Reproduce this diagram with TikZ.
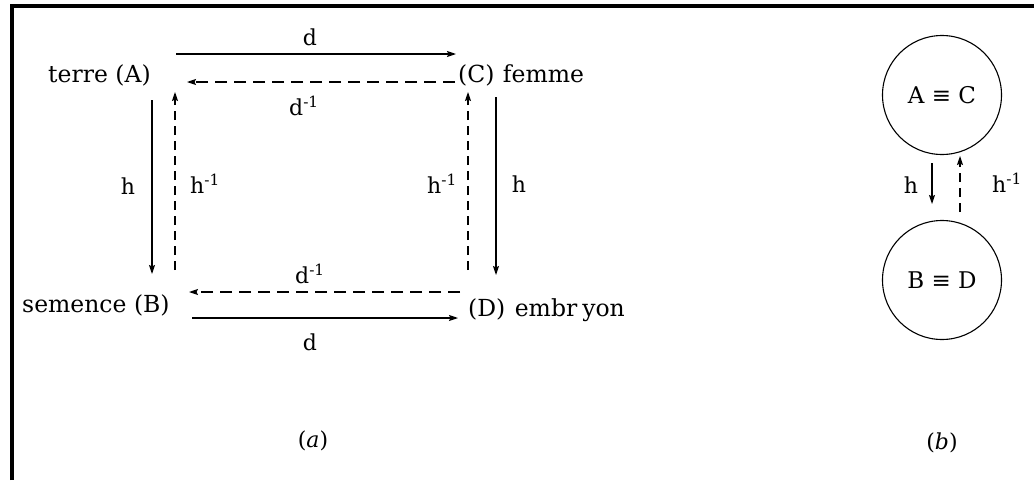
\documentclass[tikz,border=0pt]{standalone}
\usepackage{fontspec}
\setmainfont{DejaVu Serif}
\usetikzlibrary{arrows.meta}
\begin{document}
\begin{tikzpicture}[x=1pt,y=-1pt,
  txt/.style={inner sep=0pt,font=\fontsize{23.5}{28}\selectfont},
  lbl/.style={inner sep=0pt,font=\fontsize{22}{26}\selectfont},
  solidarrow/.style={line width=1.1pt,-{Stealth[length=9pt,width=6pt,inset=1.5pt]}},
  hdash/.style={line width=1.1pt,dash pattern=on 12pt off 7pt,-{Stealth[length=9pt,width=6pt,inset=1.5pt]}},
  vdash/.style={line width=1.1pt,dash pattern=on 9pt off 6pt,-{Stealth[length=9pt,width=6pt,inset=1.5pt]}},
  ring/.style={circle,draw,line width=1.1pt,minimum size=119pt,inner sep=0pt,font=\fontsize{23}{27}\selectfont}
]
\useasboundingbox (0,0) rectangle (1034,480);
% frame (top and left edges)
\draw[line width=3.5pt] (12,480) -- (12,6) -- (1034,6);

% --- (a) ---
\node[txt,anchor=base west] (A) at (48,82) {terre (A)};
\node[txt,anchor=base west] (C) at (458,82) {(C)\kern1pt\ femme};
\node[txt,anchor=base west] (B) at (22,312) {semence (B)};
\node[txt,anchor=base west] (D) at (468,316) {(D)\kern2pt\ embr\kern5pt yon};

% endpoints
\coordinate (t1s) at (176,54);  \coordinate (t1e) at (456,54);
\coordinate (t2s) at (455,82);  \coordinate (t2e) at (187,82);
\coordinate (l1s) at (152,100); \coordinate (l1e) at (152,274);
\coordinate (l2s) at (175,270); \coordinate (l2e) at (175,92);
\coordinate (r1s) at (468,270); \coordinate (r1e) at (468,92);
\coordinate (r2s) at (496,97);  \coordinate (r2e) at (496,275);
\coordinate (b1s) at (460,292); \coordinate (b1e) at (189,292);
\coordinate (b2s) at (192,318); \coordinate (b2e) at (458,318);

\draw[solidarrow] (t1s) -- (t1e);
\draw[hdash] (t2s) -- (t2e);
\draw[solidarrow] (l1s) -- (l1e);
\draw[vdash] (l2s) -- (l2e);
\draw[vdash] (r1s) -- (r1e);
\draw[solidarrow] (r2s) -- (r2e);
\draw[hdash] (b1s) -- (b1e);
\draw[solidarrow] (b2s) -- (b2e);

\node[lbl] (ld1) at (310,37) {d};
\node[lbl] (ld2) at (304,106) {d\textsuperscript{-1}};
\node[lbl] (lh1) at (128,186) {h};
\node[lbl] (lh2) at (205,184) {h\textsuperscript{-1}};
\node[lbl] (lh3) at (442,184) {h\textsuperscript{-1}};
\node[lbl] (lh4) at (519,184) {h};
\node[lbl] (ld3) at (310,274) {d\textsuperscript{-1}};
\node[lbl] (ld4) at (310,342) {d};
\node[lbl] (capa) at (313,441) {(\textit{a})};

% --- (b) ---
\node[ring] (AC) at (942,95) {A ≡ C};
\node[ring] (BD) at (942,280) {B ≡ D};
\coordinate (bh1s) at (932,163); \coordinate (bh1e) at (932,204);
\coordinate (bh2s) at (960,212); \coordinate (bh2e) at (960,156);
\draw[solidarrow] (bh1s) -- (bh1e);
\draw[vdash] (bh2s) -- (bh2e);
\node[lbl] (bl1) at (911,185) {h};
\node[lbl] (bl2) at (1007,183) {h\textsuperscript{-1}};
\node[lbl] (capb) at (942,443) {(\textit{b})};
\end{tikzpicture}
\end{document}
